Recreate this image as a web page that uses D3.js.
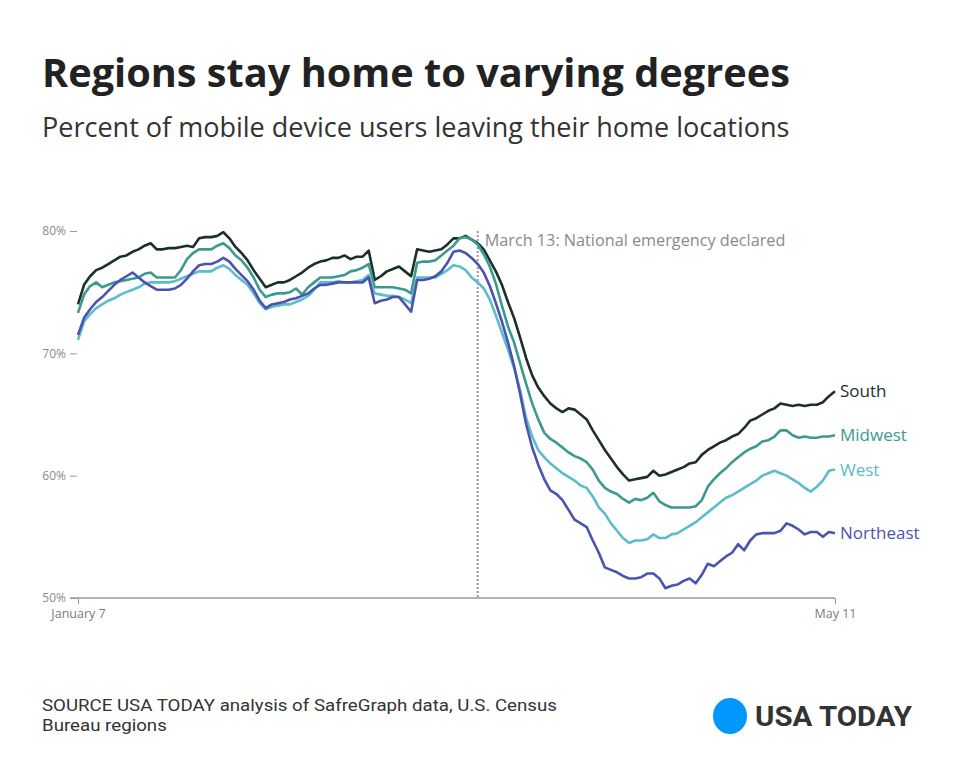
<!DOCTYPE html>
<html><head><meta charset="utf-8">
<script src="https://cdn.jsdelivr.net/npm/d3@7"></script>
<style>body{margin:0;background:#fff;} svg{display:block}</style>
</head><body><svg id="c" width="960" height="784"></svg>
<script>
const startDate = "2020-01-07";
const endDate = "2020-05-11";
const annotationDate = "2020-03-13";
const annotationText = "March 13: National emergency declared";
const yTicks = [50, 60, 70, 80];
const xTickLabels = ["January 7", "May 11"];
const seriesNames = ["South", "Midwest", "West", "Northeast"];
const seriesColors = ["#1b3126", "#3b9a90", "#5bbccb", "#4b53b1"];

const south = [74.0,75.6,76.3,76.8,77.0,77.3,77.6,77.9,78.0,78.3,78.5,78.8,79.0,78.5,78.5,78.6,78.6,78.7,78.8,78.7,
79.4,79.5,79.5,79.6,79.9,79.4,78.7,78.2,77.6,76.8,76.1,75.4,75.6,75.8,75.8,76.0,76.3,76.6,77.0,77.3,
77.5,77.6,77.8,77.8,78.0,77.7,77.9,77.9,78.4,76.0,76.3,76.7,76.9,77.1,76.7,76.3,78.5,78.4,78.3,78.4,
78.5,78.9,79.4,79.4,79.6,79.3,79.0,78.5,77.6,76.7,75.6,74.2,72.9,71.3,69.6,68.2,67.2,66.5,65.9,65.5,
65.2,65.5,65.4,65.0,64.6,63.7,62.9,62.1,61.4,60.7,60.1,59.6,59.7,59.8,59.9,60.4,60.0,60.1,60.3,60.5,
60.7,61.0,61.1,61.7,62.1,62.4,62.7,62.9,63.2,63.4,63.9,64.5,64.7,65.0,65.3,65.5,65.9,65.8,65.7,65.8,
65.7,65.8,65.8,66.0,66.5,66.9];
const midwest = [73.3,74.8,75.5,75.8,75.4,75.6,75.8,75.9,76.0,76.1,76.2,76.5,76.6,76.2,76.2,76.2,76.2,76.8,77.7,78.2,
78.5,78.5,78.5,78.8,79.0,78.6,78.0,77.6,77.0,76.2,75.2,74.6,74.8,74.9,74.9,75.0,75.3,74.8,75.4,75.8,
76.2,76.2,76.2,76.3,76.4,76.7,76.8,77.0,77.3,75.4,75.4,75.4,75.4,75.3,75.2,74.9,77.4,77.5,77.5,77.6,
78.0,78.4,78.8,79.4,79.5,79.3,78.9,78.1,77.1,75.7,73.9,72.2,70.9,69.2,67.5,65.9,64.6,63.5,63.0,62.7,
62.3,61.9,61.6,61.4,61.1,60.5,59.6,59.0,58.7,58.5,58.1,57.8,58.1,58.0,58.2,58.6,57.9,57.6,57.4,57.4,
57.4,57.4,57.5,58.0,59.1,59.7,60.2,60.6,61.1,61.5,61.9,62.2,62.4,62.8,62.9,63.2,63.7,63.7,63.3,63.1,
63.2,63.1,63.1,63.2,63.2,63.3];
const west = [71.1,72.6,73.2,73.7,74.0,74.3,74.5,74.8,75.0,75.2,75.4,75.7,75.8,75.8,75.8,75.8,75.9,76.1,76.3,76.5,
76.7,76.7,76.7,77.0,77.2,76.9,76.4,76.0,75.6,74.9,74.1,73.6,73.8,73.9,74.0,74.0,74.2,74.4,74.7,75.2,
75.8,75.8,75.8,75.9,75.8,75.8,75.9,76.0,76.4,74.9,74.8,74.7,74.7,74.6,74.4,74.1,76.2,76.2,76.2,76.2,
76.5,76.8,77.2,77.1,76.8,76.2,75.8,75.3,74.4,73.1,71.7,70.3,68.8,67.0,64.7,63.2,62.1,61.5,61.0,60.6,
60.2,59.9,59.6,59.2,59.0,58.3,57.4,56.9,56.1,55.5,54.9,54.5,54.7,54.7,54.8,55.2,54.9,54.9,55.2,55.3,
55.6,55.9,56.2,56.6,57.0,57.4,57.8,58.2,58.4,58.7,59.0,59.3,59.6,60.0,60.2,60.4,60.2,60.0,59.7,59.4,
59.0,58.7,59.1,59.6,60.4,60.5];
const northeast = [71.5,72.9,73.6,74.2,74.6,75.1,75.6,76.0,76.3,76.6,76.2,75.8,75.5,75.2,75.2,75.2,75.3,75.6,76.1,76.7,
77.2,77.3,77.3,77.5,77.8,77.5,76.9,76.4,75.9,75.2,74.3,73.7,74.0,74.1,74.2,74.4,74.5,74.7,74.9,75.3,
75.6,75.6,75.7,75.8,75.8,75.8,75.8,75.8,76.2,74.1,74.3,74.4,74.6,74.6,74.0,73.4,76.0,76.0,76.1,76.3,
76.7,77.4,78.3,78.4,78.2,77.8,77.3,76.6,75.5,74.1,72.6,70.9,69.0,66.7,64.2,62.3,60.9,59.7,58.8,58.5,
58.0,57.2,56.4,56.1,55.8,54.7,53.7,52.5,52.3,52.1,51.8,51.6,51.6,51.7,52.0,52.0,51.6,50.8,51.0,51.1,
51.4,51.6,51.2,51.9,52.8,52.6,53.0,53.4,53.7,54.4,53.9,54.7,55.2,55.3,55.3,55.3,55.5,56.1,55.9,55.6,
55.2,55.4,55.4,55.0,55.4,55.3];
const seriesValues = [south, midwest, west, northeast];

const title = "Regions stay home to varying degrees";
const subtitle = "Percent of mobile device users leaving their home locations";
const sourceLines = ["SOURCE USA TODAY analysis of SafreGraph data, U.S. Census", "Bureau regions"];
const brand = "USA TODAY";

const svg = d3.select("#c");
const parse = d3.utcParse("%Y-%m-%d");
const t0 = parse(startDate), t1 = parse(endDate);
const dates = d3.utcDay.range(t0, d3.utcDay.offset(t1, 1));

const x = d3.scaleUtc().domain([t0, t1]).range([78, 835]);
const y = d3.scaleLinear().domain([50, 80]).range([598, 231]);

function fitWidth(sel, w) {
  const L = sel.node().getComputedTextLength();
  const fs = parseFloat(sel.attr("font-size"));
  sel.attr("font-size", fs * w / L);
}

// Title & subtitle
const tt = svg.append("text").attr("x", 42).attr("y", 87).attr("font-family", "Open Sans")
  .attr("font-weight", 700).attr("font-size", 36).attr("fill", "#222").text(title);
fitWidth(tt, 748);
const st = svg.append("text").attr("x", 42).attr("y", 137).attr("font-family", "Open Sans")
  .attr("font-size", 24).attr("fill", "#333").text(subtitle);
fitWidth(st, 748);

// Y axis
const yAxis = svg.append("g").attr("transform", `translate(${x(t0) - 1},0)`)
  .call(d3.axisLeft(y).tickValues(yTicks).tickSize(7).tickPadding(4).tickFormat(d => d + "%"));
yAxis.select(".domain").remove();
yAxis.selectAll("line").attr("stroke", "#999");
yAxis.selectAll("text").attr("font-family", "Open Sans").attr("font-size", 12).attr("fill", "#8a8a8a");

// X axis
svg.append("line").attr("x1", x(t0) - 8).attr("x2", x(t1)).attr("y1", y(50)).attr("y2", y(50))
  .attr("stroke", "#999").attr("stroke-width", 1.5);
const xAxis = svg.append("g").attr("transform", `translate(0,${y(50)})`)
  .call(d3.axisBottom(x).tickValues([t0, t1]).tickSize(6).tickPadding(5)
    .tickFormat((d, i) => xTickLabels[i]));
xAxis.select(".domain").remove();
xAxis.selectAll("line").attr("stroke", "#999");
xAxis.selectAll("text").attr("font-family", "Open Sans").attr("font-size", 12.5).attr("fill", "#7a7a7a");

// Annotation line
const ta = parse(annotationDate);
svg.append("line").attr("x1", x(ta)).attr("x2", x(ta)).attr("y1", y(80)).attr("y2", y(50))
  .attr("stroke", "#999").attr("stroke-width", 2).attr("stroke-dasharray", "2,2");
const at = svg.append("text").attr("x", x(ta) + 7).attr("y", 246).attr("font-family", "Open Sans")
  .attr("font-size", 14).attr("fill", "#8a8a8a").text(annotationText);
fitWidth(at, 301);

// Lines
const line = d3.line().x((d, i) => x(dates[i])).y(d => y(d));
seriesValues.forEach((vals, k) => {
  svg.append("path").datum(vals).attr("d", line).attr("fill", "none")
    .attr("stroke", seriesColors[k]).attr("stroke-width", 2.6).attr("stroke-linejoin", "round");
  svg.append("text").attr("x", x(t1) + 5).attr("y", y(vals[vals.length - 1])).attr("dy", "0.35em")
    .attr("font-family", "Open Sans").attr("font-size", 17).attr("fill", seriesColors[k]).text(seriesNames[k]);
});

// Footer source
const fg = svg.append("g").attr("transform", "translate(42,0)");
const s1 = fg.append("text").attr("x", 0).attr("y", 711).attr("font-family", "Roboto")
  .attr("font-size", 17).attr("fill", "#333").text(sourceLines[0]);
const k1 = 515 / s1.node().getComputedTextLength();
fg.attr("transform", `translate(42,0) scale(${k1},1)`);
fg.append("text").attr("x", 0).attr("y", 731).attr("font-family", "Roboto")
  .attr("font-size", 17).attr("fill", "#333").text(sourceLines[1]);

// Logo
svg.append("ellipse").attr("cx", 730).attr("cy", 716).attr("rx", 17).attr("ry", 18).attr("fill", "#0098fe");
const lg = svg.append("g");
const bt = lg.append("text").attr("x", 0).attr("y", 726).attr("font-family", "Roboto")
  .attr("font-weight", 700).attr("font-size", 27).attr("fill", "#333").text(brand);
const kb = 157 / bt.node().getComputedTextLength();
lg.attr("transform", `translate(755,0) scale(${kb},1)`);
</script>
</body></html>
